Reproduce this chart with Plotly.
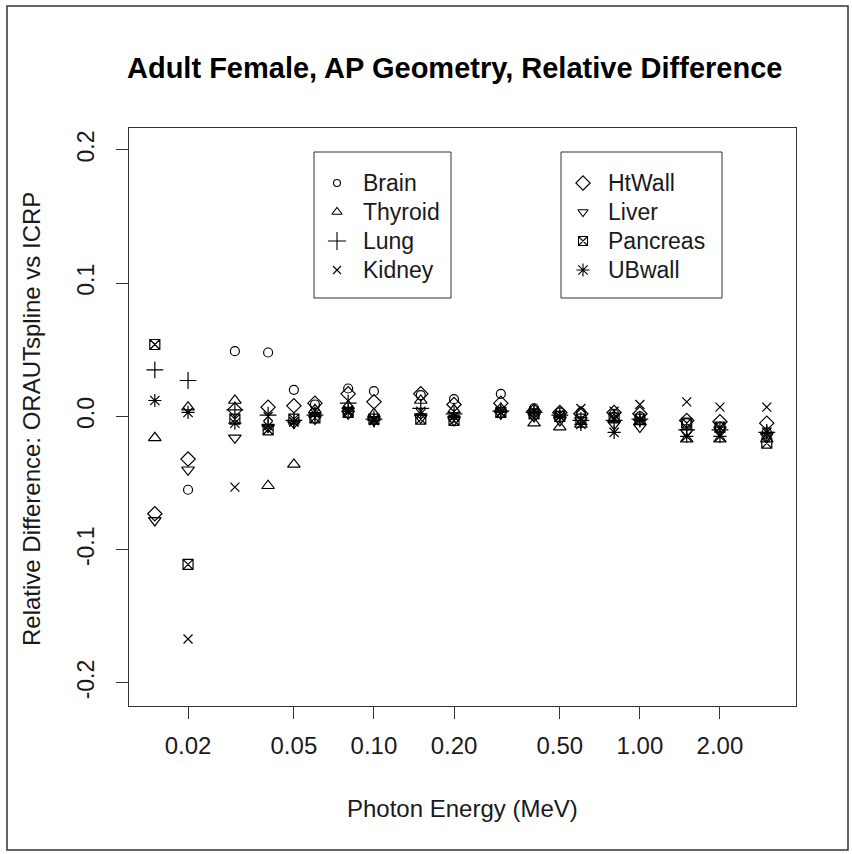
import plotly.graph_objects as go

# Photon energies (MeV)
energy = [0.015, 0.02, 0.03, 0.04, 0.05, 0.06, 0.08, 0.10, 0.15, 0.20,
          0.30, 0.40, 0.50, 0.60, 0.80, 1.00, 1.50, 2.00, 3.00]

# Relative difference, ORAUTspline vs ICRP, per organ
brain = [None, -0.055, 0.049, 0.048, 0.020, 0.009, 0.021, 0.019, 0.016, 0.013,
         0.017, 0.006, 0.003, 0.003, 0.002, 0.000, -0.005, -0.008, -0.012]
thyroid = [-0.016, 0.007, 0.012, -0.052, -0.036, 0.005, 0.008, 0.002, 0.012, 0.005,
           0.006, -0.005, -0.008, -0.006, -0.002, -0.004, -0.017, -0.017, -0.017]
lung = [0.035, 0.027, 0.005, 0.001, -0.003, 0.001, 0.010, -0.002, 0.006, 0.002,
        0.004, 0.003, 0.001, -0.003, -0.003, -0.002, -0.010, -0.010, -0.012]
kidney = [None, -0.167, -0.053, 0.000, -0.004, 0.004, 0.005, -0.003, 0.004, 0.000,
          0.003, 0.004, 0.002, 0.006, 0.004, 0.009, 0.011, 0.007, 0.007]
htwall = [-0.073, -0.032, 0.005, 0.007, 0.008, 0.010, 0.017, 0.011, 0.017, 0.009,
          0.010, 0.004, 0.003, 0.002, 0.003, 0.002, -0.003, -0.004, -0.005]
liver = [-0.078, -0.040, -0.016, -0.008, -0.005, -0.002, 0.002, -0.003, -0.001, -0.003,
         0.002, 0.000, -0.003, -0.003, -0.006, -0.008, -0.012, -0.010, -0.015]
pancreas = [0.054, -0.111, -0.002, -0.010, -0.002, -0.001, 0.003, -0.002, -0.002, -0.003,
            0.003, 0.002, 0.000, -0.002, -0.001, -0.002, -0.005, -0.008, -0.020]
ubwall = [0.012, 0.003, -0.005, -0.007, -0.004, 0.002, 0.004, -0.003, 0.002, 0.000,
          0.003, 0.004, 0.000, -0.006, -0.012, -0.003, -0.015, -0.015, -0.012]

x_tickvals = [0.02, 0.05, 0.10, 0.20, 0.50, 1.00, 2.00]
x_ticktext = ["0.02", "0.05", "0.10", "0.20", "0.50", "1.00", "2.00"]
y_tickvals = [-0.2, -0.1, 0.0, 0.1, 0.2]
y_ticktext = ["-0.2", "-0.1", "0.0", "0.1", "0.2"]

FONT = "Liberation Sans, Arial, sans-serif"
INK = "#1a1a1a"

# name, values, symbol, plot marker size, legend marker size, legend box
series = [
    ("Brain", brain, "circle-open", 9, 7, 0),
    ("Thyroid", thyroid, "triangle-up-open", 11, 9, 0),
    ("Lung", lung, "cross-thin-open", 12, 13, 0),
    ("Kidney", kidney, "x-thin-open", 9, 8, 0),
    ("HtWall", htwall, "diamond-open", 11, 11, 1),
    ("Liver", liver, "triangle-down-open", 11, 9, 1),
    ("Pancreas", pancreas, "square-x-open", 10, 9, 1),
    ("UBwall", ubwall, "asterisk-open", 11, 11, 1),
]

# Plot area occupies pixels x 129..796, y 128..706 of the 852x854 page
L, R, T, B = 129, 796, 128, 706
W, H = 852, 854
pw, ph = R - L, B - T


def px(x):
    return (x - L) / pw


def py(y):
    return (B - y) / ph


fig = go.Figure()
for name, vals, sym, size, _, _ in series:
    fig.add_trace(go.Scatter(
        x=energy, y=vals, mode="markers", name=name, showlegend=False,
        marker=dict(symbol=sym, size=size, color="black",
                    line=dict(color="black", width=1.2)),
    ))

# Two boxed legends, drawn on a pixel-scaled overlay axis
legend_boxes = [dict(x0=314, x1=451, key_x=337, text_x=361),
                dict(x0=561, x1=722, key_x=583, text_x=606)]
box_top, box_bottom = 152, 298
row_y = [183, 212, 241, 270]

rows_used = [0, 0]
for name, _, sym, _, lsize, box in series:
    bx = legend_boxes[box]
    ry = row_y[rows_used[box]]
    rows_used[box] += 1
    fig.add_trace(go.Scatter(
        x=[bx["key_x"]], y=[ry], mode="markers", xaxis="x2", yaxis="y2",
        showlegend=False, hoverinfo="skip",
        marker=dict(symbol=sym, size=lsize, color="black",
                    line=dict(color="black", width=1.1)),
    ))
    fig.add_annotation(x=px(bx["text_x"]), y=py(ry), xref="paper", yref="paper",
                       text=name, showarrow=False, xanchor="left", yanchor="middle",
                       font=dict(family=FONT, size=23, color=INK))

for bx in legend_boxes:
    fig.add_shape(type="rect", xref="paper", yref="paper",
                  x0=px(bx["x0"]), x1=px(bx["x1"]), y0=py(box_bottom), y1=py(box_top),
                  line=dict(color="#333", width=1), fillcolor="white", layer="below")

fig.update_layout(
    width=W, height=H,
    margin=dict(l=L, r=W - R, t=T, b=H - B, pad=0),
    paper_bgcolor="white", plot_bgcolor="rgba(0,0,0,0)",
    font=dict(family=FONT, size=24, color=INK),
    showlegend=False,
    xaxis=dict(
        type="log", range=[-1.921, 0.587],
        tickvals=x_tickvals, ticktext=x_ticktext,
        ticks="outside", ticklen=12, tickwidth=1, tickcolor="#333",
        ticklabelstandoff=6,
        showline=True, linecolor="#333", linewidth=1, mirror=True,
        showgrid=False, zeroline=False,
        tickfont=dict(family=FONT, size=24, color=INK),
    ),
    yaxis=dict(
        range=[-0.2173, 0.2165],
        tickvals=y_tickvals, ticktext=y_ticktext, tickangle=-90,
        ticks="outside", ticklen=12, tickwidth=1, tickcolor="#333",
        ticklabelstandoff=13,
        showline=True, linecolor="#333", linewidth=1, mirror=True,
        showgrid=False, zeroline=False,
        tickfont=dict(family=FONT, size=23, color=INK),
    ),
    xaxis2=dict(overlaying="x", range=[L, R], visible=False, fixedrange=True),
    yaxis2=dict(overlaying="y", range=[B, T], visible=False, fixedrange=True),
)

# Title and axis titles
fig.add_annotation(x=px(125), y=py(68), xref="paper", yref="paper",
                   text="<b>Adult Female, AP Geometry, Relative Difference</b>",
                   showarrow=False, xanchor="left", yanchor="middle",
                   font=dict(family=FONT, size=29, color="black"))
fig.add_annotation(x=0.5, y=py(808), xref="paper", yref="paper",
                   text="Photon Energy (MeV)", showarrow=False,
                   xanchor="center", yanchor="middle",
                   font=dict(family=FONT, size=24, color=INK))
fig.add_annotation(x=px(31), y=py(419), xref="paper", yref="paper",
                   text="Relative Difference: ORAUTspline vs ICRP", textangle=-90,
                   showarrow=False, xanchor="center", yanchor="middle",
                   font=dict(family=FONT, size=24, color=INK))

# Outer frame around the whole figure
fig.add_shape(type="rect", xref="paper", yref="paper",
              x0=px(7), x1=px(848), y0=py(850), y1=py(6),
              line=dict(color="#333", width=1.5), fillcolor="rgba(0,0,0,0)",
              layer="below")

fig.write_html("out.html")
